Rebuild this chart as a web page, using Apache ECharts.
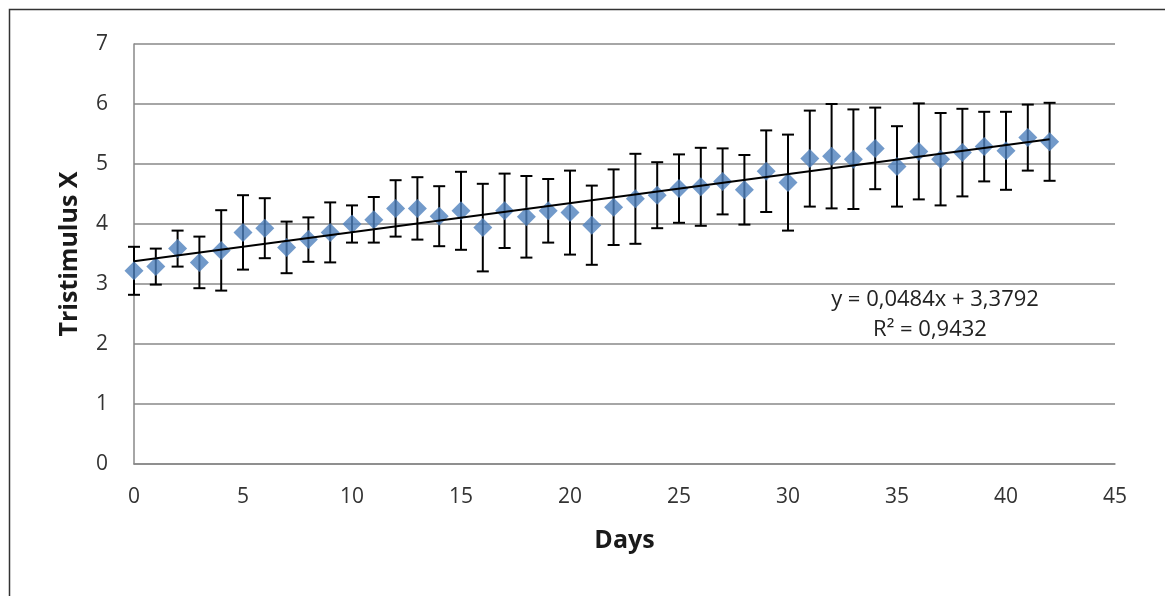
<!DOCTYPE html>
<html>
<head>
<meta charset="utf-8">
<script src="https://cdn.jsdelivr.net/npm/echarts@6/dist/echarts.min.js"></script>
<style>
html,body{margin:0;padding:0;background:#fff;}
#chart{width:1165px;height:596px;}
</style>
</head>
<body>
<div id="chart"></div>
<script>
// ---- data ----
var days = [0,1,2,3,4,5,6,7,8,9,10,11,12,13,14,15,16,17,18,19,20,21,22,23,24,25,26,27,28,29,30,31,32,33,34,35,36,37,38,39,40,41,42];
var meanX = [3.22,3.29,3.59,3.36,3.56,3.86,3.93,3.61,3.74,3.86,4.00,4.07,4.26,4.26,4.13,4.22,3.94,4.22,4.12,4.22,4.19,3.98,4.28,4.42,4.48,4.59,4.62,4.71,4.57,4.88,4.69,5.09,5.13,5.08,5.26,4.96,5.21,5.08,5.19,5.29,5.22,5.44,5.37];
var errX = [0.40,0.30,0.30,0.43,0.67,0.62,0.50,0.43,0.37,0.50,0.31,0.38,0.47,0.52,0.50,0.65,0.73,0.62,0.68,0.53,0.70,0.66,0.63,0.75,0.55,0.57,0.65,0.55,0.58,0.68,0.80,0.80,0.87,0.83,0.68,0.67,0.80,0.77,0.73,0.58,0.65,0.55,0.65];
var trendSlope = 0.0484;
var trendIntercept = 3.3792;
var trendRange = [0, 42];
var equationText = 'y = 0,0484x + 3,3792';
var r2Text = 'R\u00B2 = 0,9432';
var xTicks = {min:0, max:45, interval:5};
var yTicks = {min:0, max:7, interval:1};

// ---- build ----
var pts = days.map(function(d,i){return [d, meanX[i]];});
var bars = days.map(function(d,i){return [d, meanX[i]-errX[i], meanX[i]+errX[i]];});
var trend = trendRange.map(function(x){return [x, trendSlope*x + trendIntercept];});

var FONT = '"Open Sans", "Noto Sans", sans-serif';
var chart = echarts.init(document.getElementById('chart'), null, {renderer:'canvas'});
chart.setOption({
  animation:false,
  backgroundColor:'#fff',
  grid:{left:134, right:50, top:44, bottom:132, containLabel:false},
  xAxis:{
    type:'value', min:xTicks.min, max:xTicks.max, interval:xTicks.interval,
    name:'Days', nameLocation:'middle', nameGap:64,
    nameTextStyle:{fontFamily:FONT, fontWeight:'bold', fontSize:25, color:'#1a1a1a'},
    axisLine:{show:true, lineStyle:{color:'#888', width:1.5}},
    axisTick:{show:false},
    splitLine:{show:false},
    axisLabel:{fontFamily:FONT, fontSize:21, color:'#333', margin:23}
  },
  yAxis:{
    type:'value', min:yTicks.min, max:yTicks.max, interval:yTicks.interval,
    name:'Tristimulus X', nameLocation:'middle', nameGap:52, nameRotate:90,
    nameTextStyle:{fontFamily:FONT, fontWeight:'bold', fontSize:25, color:'#1a1a1a'},
    axisLine:{show:true, lineStyle:{color:'#888', width:1.5}},
    axisTick:{show:false},
    splitLine:{show:true, lineStyle:{color:'#888', width:1.5}},
    axisLabel:{fontFamily:FONT, fontSize:21, color:'#333', margin:26}
  },
  series:[
    {
      type:'custom', z:2,
      data:bars,
      renderItem:function(params, api){
        var x = api.value(0);
        var lo = api.coord([x, api.value(1)]);
        var hi = api.coord([x, api.value(2)]);
        var w = 6;
        var st = {stroke:'#000', lineWidth:2};
        return {type:'group', children:[
          {type:'line', shape:{x1:lo[0], y1:lo[1], x2:hi[0], y2:hi[1]}, style:st},
          {type:'line', shape:{x1:hi[0]-w, y1:hi[1], x2:hi[0]+w, y2:hi[1]}, style:st},
          {type:'line', shape:{x1:lo[0]-w, y1:lo[1], x2:lo[0]+w, y2:lo[1]}, style:st}
        ]};
      },
      encode:{x:0, y:[1,2]}
    },
    {
      type:'scatter', z:3, data:pts, symbol:'diamond', symbolSize:19,
      itemStyle:{color:'#4F81BD'}
    },
    {
      type:'line', z:4, data:trend, symbol:'none',
      lineStyle:{color:'#000', width:2}
    }
  ],
  graphic:[
    {type:'rect', left:7, top:7, shape:{width:1200, height:640}, style:{fill:'none', stroke:'#333', lineWidth:1.5}},
    {type:'text', x:935, y:300, style:{text:equationText, fontFamily:FONT, fontSize:22, fill:'#222', align:'center', verticalAlign:'middle'}},
    {type:'text', x:930, y:330, style:{text:r2Text, fontFamily:FONT, fontSize:22, fill:'#222', align:'center', verticalAlign:'middle'}}
  ]
});
</script>
</body>
</html>
